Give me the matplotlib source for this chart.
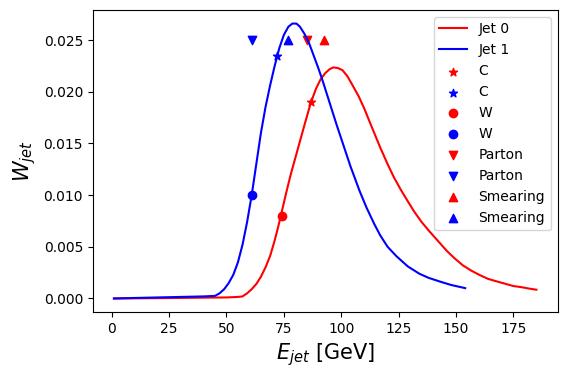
import matplotlib
matplotlib.use('Agg')
import matplotlib.pyplot as plt

# curves
jet1_e = [1, 10, 20, 30, 40, 45, 47, 49, 51, 53, 55, 57, 59, 61, 63, 65, 67, 69, 71, 73, 75, 77,
          78.7, 80.5, 82, 84, 86, 88, 90, 92, 95, 98, 101, 104, 108, 111, 114.4, 117, 120.2,
          124, 129, 134, 138, 143.5, 148, 154]
jet1_w = [0.0, 0.00005, 0.0001, 0.00015, 0.0002, 0.00025, 0.0005, 0.0009, 0.0015, 0.0023, 0.0035,
          0.0052, 0.0074, 0.0100, 0.0130, 0.0160, 0.0185, 0.0206, 0.0225, 0.0242, 0.0255, 0.0263,
          0.0266, 0.0266, 0.0263, 0.0256, 0.0247, 0.0235, 0.0223, 0.0210, 0.0189, 0.0168, 0.0148,
          0.0128, 0.0104, 0.0088, 0.0072, 0.0061, 0.0050, 0.0041, 0.0031, 0.0024, 0.0020, 0.0016,
          0.0013, 0.0010]

jet0_e = [1, 20, 40, 50, 55, 57, 59, 61, 63, 65, 67, 69, 71, 72.5, 74, 76, 78, 80, 82, 84, 86.7,
          89, 91, 93, 95, 96.6, 98.5, 100.5, 102.7, 105, 107.5, 110, 112, 114.4, 117, 120.2,
          123, 126, 129, 131.8, 135, 138, 142, 146, 149.3, 153, 156.6, 160, 163.9, 167, 171,
          175, 178.4, 182, 185]
jet0_w = [0.0, 0.00003, 0.00008, 0.0001, 0.00015, 0.0002, 0.0005, 0.0009, 0.0014, 0.0021, 0.0030,
          0.0041, 0.0056, 0.0069, 0.0083, 0.0102, 0.0120, 0.0136, 0.0152, 0.0168, 0.0189,
          0.0203, 0.0212, 0.0218, 0.0222, 0.02236, 0.0223, 0.0221, 0.0215, 0.0206, 0.0196,
          0.0184, 0.0173, 0.0160, 0.0146, 0.0130, 0.0117, 0.0105, 0.0094, 0.0084, 0.0074,
          0.0066, 0.0056, 0.0046, 0.0039, 0.0032, 0.0027, 0.0023, 0.0019, 0.0017, 0.00145,
          0.0012, 0.0011, 0.00095, 0.00085]

# special points: (jet0, jet1)
c_e, c_w = [87, 72], [0.019, 0.0235]
w_e, w_w = [74, 61], [0.008, 0.010]
parton_e = [85, 61]
smear_e = [92.5, 77]
marker_w = 0.025

colors = ['red', 'blue']

fig = plt.figure(figsize=(5.66, 3.78), dpi=100)
ax = fig.add_subplot(111)
fig.subplots_adjust(left=0.164, right=0.985, top=0.974, bottom=0.174)

ax.plot(jet0_e, jet0_w, color='red', label='Jet 0')
ax.plot(jet1_e, jet1_w, color='blue', label='Jet 1')

for i in range(2):
    ax.scatter(c_e[i], c_w[i], marker='*', color=colors[i], label='C')
for i in range(2):
    ax.scatter(w_e[i], w_w[i], marker='o', color=colors[i], label='W')
for i in range(2):
    ax.scatter(parton_e[i], marker_w, marker='v', color=colors[i], label='Parton')
for i in range(2):
    ax.scatter(smear_e[i], marker_w, marker='^', color=colors[i], label='Smearing')

ax.set_xlabel('$E_{jet}$ [GeV]', fontsize=15)
ax.set_ylabel('$W_{jet}$', fontsize=15)
ax.legend(loc='upper right')

fig.savefig('out.png', dpi=100)
